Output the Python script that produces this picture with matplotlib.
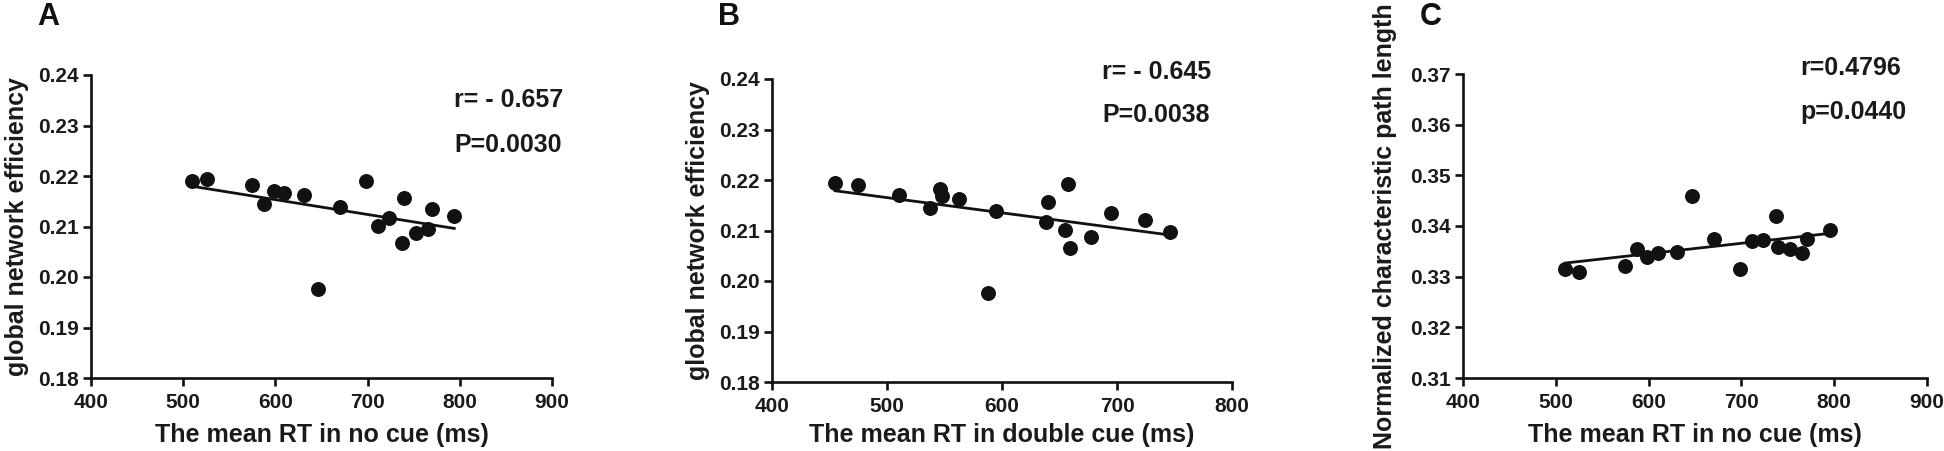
import matplotlib.pyplot as plt
import numpy as np

plt.rcParams['font.family'] = ['Liberation Sans', 'DejaVu Sans']
plt.rcParams['font.weight'] = 'bold'

#Data
rt_no_cue = [510, 526, 575, 588, 598, 609, 631, 646, 670, 698, 711, 723, 737, 740, 752, 765, 770, 794]
eff_no_cue = [0.2190, 0.2194, 0.2182, 0.2145, 0.2170, 0.2166, 0.2162, 0.1977, 0.2139, 0.2190,
              0.2101, 0.2116, 0.2067, 0.2156, 0.2087, 0.2096, 0.2134, 0.2120]

rt_double_cue = [455, 475, 510, 537, 546, 548, 563, 588, 595, 638, 640, 655, 657, 659, 677, 695, 724, 746]
eff_double_cue = [0.2194, 0.2190, 0.2171, 0.2144, 0.2182, 0.2168, 0.2162, 0.1977, 0.2139, 0.2116,
                  0.2157, 0.2101, 0.2192, 0.2066, 0.2087, 0.2134, 0.2121, 0.2097]

rt_no_cue_c = [510, 525, 575, 588, 598, 610, 631, 647, 670, 699, 711, 723, 737, 739, 752, 765, 771, 795]
path_len_no_cue = [0.3316, 0.3309, 0.3321, 0.3354, 0.3338, 0.3346, 0.3349, 0.3460, 0.3375, 0.3316,
                   0.3370, 0.3373, 0.3419, 0.3359, 0.3354, 0.3346, 0.3375, 0.3392]

W, H = 1944, 451

def fx(px):
    return px / W

def fy(py):
    return 1 - py / H

fig = plt.figure(figsize=(W / 100, H / 100), dpi=100)

panels = [
    #axes box is (left, right, top, bottom) in pixels
    dict(letter='A', x=rt_no_cue, y=eff_no_cue, xlim=(400, 900), ylim=(0.18, 0.24),
         xlabel='The mean RT in no cue (ms)', ylabel='global network efficiency',
         stats=['r= - 0.657', 'P=0.0030'], box=(91, 552, 75, 378), letter_x=37,
         ylab_x=17, stats_x=454, stats_y=(100, 145)),
    dict(letter='B', x=rt_double_cue, y=eff_double_cue, xlim=(400, 800), ylim=(0.18, 0.24),
         xlabel='The mean RT in double cue (ms)', ylabel='global network efficiency',
         stats=['r= - 0.645', 'P=0.0038'], box=(772, 1232, 79, 382), letter_x=718,
         ylab_x=698, stats_x=1102, stats_y=(72, 115)),
    dict(letter='C', x=rt_no_cue_c, y=path_len_no_cue, xlim=(400, 900), ylim=(0.31, 0.37),
         xlabel='The mean RT in no cue (ms)', ylabel='Normalized characteristic path length',
         stats=['r=0.4796', 'p=0.0440'], box=(1463, 1927, 74, 378), letter_x=1420,
         ylab_x=1385, stats_x=1800, stats_y=(68, 112)),
]

for p in panels:
    l, r, t, b = p['box']
    ax = fig.add_axes([fx(l), fy(b), (r - l) / W, (b - t) / H])

    ax.scatter(p['x'], p['y'], s=95, color='#111111', zorder=3, clip_on=False)

    #Linear fit line over the data range
    slope, intercept = np.polyfit(p['x'], p['y'], 1)
    xs = np.array([min(p['x']), max(p['x'])])
    ax.plot(xs, slope * xs + intercept, color='#111111', lw=2.0, zorder=2)

    ax.set_xlim(*p['xlim'])
    ax.set_ylim(*p['ylim'])
    ax.set_xticks(np.arange(p['xlim'][0], p['xlim'][1] + 1, 100))
    ax.set_yticks(np.round(np.arange(p['ylim'][0], p['ylim'][1] + 0.001, 0.01), 2))
    ax.yaxis.set_major_formatter(plt.FormatStrFormatter('%.2f'))

    for side in ['top', 'right']:
        ax.spines[side].set_visible(False)
    for side in ['left', 'bottom']:
        ax.spines[side].set_linewidth(1.9)
        ax.spines[side].set_color('#111111')
    ax.tick_params(axis='both', length=6, width=1.9, color='#111111', labelsize=15,
                   labelcolor='#1a1a1a')
    ax.tick_params(axis='x', pad=5)
    ax.tick_params(axis='y', pad=3)

    #Labels and annotations
    fig.text(fx((l + r) / 2), fy(435), p['xlabel'], ha='center', va='center',
             fontsize=18, fontweight='bold', color='#1a1a1a')
    fig.text(fx(p['ylab_x']), fy((t + b) / 2), p['ylabel'], ha='center', va='center',
             rotation=90, fontsize=18, fontweight='bold', color='#1a1a1a')
    fig.text(fx(p['letter_x']), fy(17), p['letter'], ha='left', va='center',
             fontsize=22, fontweight='bold', color='#111111')
    for txt, sy in zip(p['stats'], p['stats_y']):
        fig.text(fx(p['stats_x']), fy(sy), txt, ha='left', va='center',
                 fontsize=18, fontweight='bold', color='#1a1a1a')

fig.savefig('out.png', dpi=100)
